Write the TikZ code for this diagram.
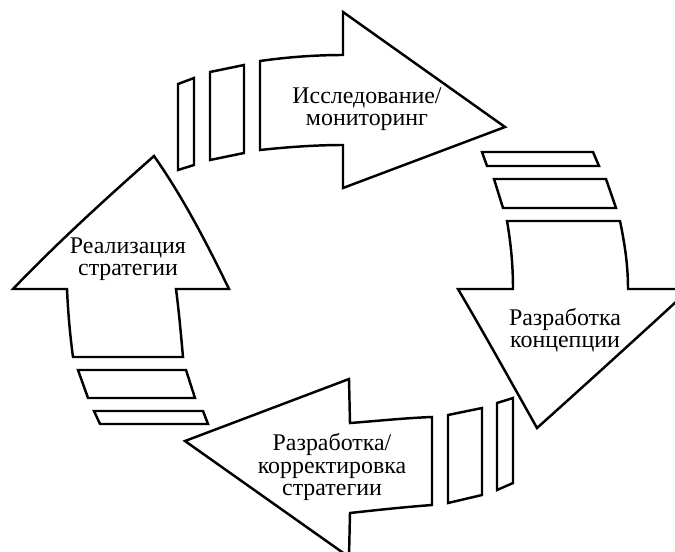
\documentclass[tikz,border=0pt]{standalone}
\usepackage{fontspec}
\setmainfont{Liberation Serif}

\begin{document}
\begin{tikzpicture}[x=0.02cm, y=-0.02cm, line width=1.4pt, line join=miter,
	lbl/.style={align=center, font=\fontsize{13.6}{12.8}\selectfont, inner sep=0pt}]
	\clip (0,0) rectangle (675,551);
	\draw (178,84)--(194,78)--(194,165)--(178,170)--cycle;
	\draw (210,72)--(244,65)--(244,153)--(210,160)--cycle;
	\draw (260,61) .. controls (288,57) and (316,55) .. (343,55) -- (343,12) -- (505,127)
		-- (343,188) -- (343,145) .. controls (316,145) and (288,147) .. (260,150) -- cycle;
	\draw (482,152)--(593,152)--(599,166)--(487,166)--cycle;
	\draw (494,179)--(606,179)--(616,208)--(503,208)--cycle;
	\draw (507,221) -- (620,221) .. controls (625,245) and (628,266) .. (628,289) -- (690,289)
		.. controls (640,335) and (585,385) .. (537,428)
		.. controls (510,380) and (485,335) .. (458,289) -- (513,289)
		.. controls (513,266) and (511,244) .. (507,221) -- cycle;
	\draw (448,415)--(482,408)--(482,495)--(448,503)--cycle;
	\draw (497,403)--(513,398)--(513,483)--(497,490)--cycle;
	\draw (432,417) .. controls (405,418) and (377,421) .. (350,423) -- (349,379) -- (185,441)
		-- (349,557) -- (350,513) .. controls (377,510) and (405,507) .. (432,505) -- cycle;
	\draw (78,370)--(186,370)--(195,398)--(88,398)--cycle;
	\draw (94,411)--(203,411)--(208,424)--(100,424)--cycle;
	\draw (154,156) .. controls (185,200) and (210,250) .. (229,289) -- (176,289)
		.. controls (179,312) and (181,335) .. (183,357) -- (73,357)
		.. controls (70,335) and (68,312) .. (67,289) -- (13,289)
		.. controls (60,240) and (110,195) .. (154,156) -- cycle;
	\node[lbl] (res) at (367,109) {Исследование/\\мониторинг};
	\node[lbl] (con) at (565,330) {Разработка\\концепции};
	\node[lbl] (dev) at (332,467) {Разработка/\\корректировка\\стратегии};
	\node[lbl] (imp) at (128,259) {Реализация\\стратегии};
\end{tikzpicture}
\end{document}
